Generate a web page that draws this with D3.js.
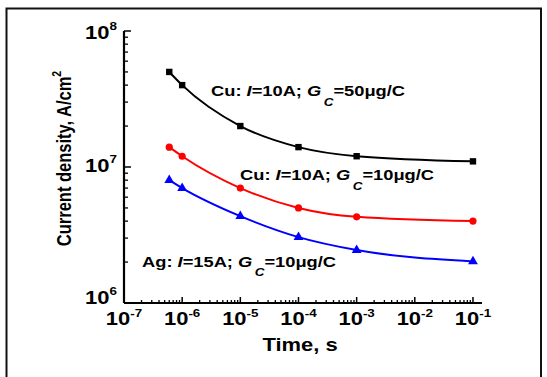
<!DOCTYPE html>
<html><head><meta charset="utf-8">
<script src="https://cdn.jsdelivr.net/npm/d3@7"></script>
<style>
html,body{margin:0;padding:0;background:#fff;}
svg text{font-family:"Liberation Sans",Arial,Helvetica,sans-serif;font-weight:bold;fill:#000;}
</style></head>
<body>
<svg id="chart" width="547" height="377"></svg>
<script>
// ---- data ----
const times = [6e-7, 1e-6, 1e-5, 1e-4, 1e-3, 1e-1];
const cu50 = [5.0e7, 4.0e7, 2.0e7, 1.4e7, 1.2e7, 1.1e7];
const cu10 = [1.4e7, 1.2e7, 7.0e6, 5.0e6, 4.3e6, 4.0e6];
const ag10 = [8.0e6, 7.0e6, 4.35e6, 3.05e6, 2.45e6, 2.02e6];
const xTickExps = [-7, -6, -5, -4, -3, -2, -1];
const yTickExps = [6, 7, 8];
const seriesNames = [
  {metal:"Cu", current:"10A", gc:"50μg/C"},
  {metal:"Cu", current:"10A", gc:"10μg/C"},
  {metal:"Ag", current:"15A", gc:"10μg/C"}
];
const xTitle = "Time, s";
const yTitle = "Current density, A/cm";

// ---- layout ----
const SX = 1.22; // horizontal stretch of all lettering
const svg = d3.select("#chart");
const x = d3.scaleLog().domain([1e-7, 0.143]).range([124, 482]);
const y = d3.scaleLog().domain([1e6, 1e8]).range([303, 31]);

// outer frame
svg.append("path").attr("d","M6.5,377V8.5H541V377").attr("fill","none")
  .attr("stroke","#111").attr("stroke-width",2);

// axes lines
svg.append("line").attr("x1",x(1e-7)).attr("x2",x(0.143)).attr("y1",y(1e6)).attr("y2",y(1e6))
  .attr("stroke","#000").attr("stroke-width",2);
svg.append("line").attr("x1",x(1e-7)).attr("x2",x(1e-7)).attr("y1",y(1e6)).attr("y2",y(1e8))
  .attr("stroke","#000").attr("stroke-width",2.2);

// x ticks (inward)
const xMinor = [];
for (let e=-7;e<-1;e++) for (let m=2;m<=9;m++) xMinor.push(m*Math.pow(10,e));
svg.selectAll(".xmin").data(xMinor).enter().append("line")
  .attr("x1",d=>x(d)).attr("x2",d=>x(d)).attr("y1",y(1e6)).attr("y2",y(1e6)-3)
  .attr("stroke","#000").attr("stroke-width",1.3);
svg.selectAll(".xmaj").data(xTickExps).enter().append("line")
  .attr("x1",d=>x(Math.pow(10,d))).attr("x2",d=>x(Math.pow(10,d)))
  .attr("y1",y(1e6)).attr("y2",y(1e6)-6).attr("stroke","#000").attr("stroke-width",1.5);

// y ticks (inward)
const yMinor = [];
for (let e=6;e<8;e++) for (let m=2;m<=9;m++) yMinor.push(m*Math.pow(10,e));
svg.selectAll(".ymin").data(yMinor).enter().append("line")
  .attr("x1",x(1e-7)).attr("x2",x(1e-7)+4).attr("y1",d=>y(d)).attr("y2",d=>y(d))
  .attr("stroke","#000").attr("stroke-width",1.3);
svg.selectAll(".ymaj").data(yTickExps).enter().append("line")
  .attr("x1",x(1e-7)).attr("x2",x(1e-7)+7).attr("y1",d=>y(Math.pow(10,d))).attr("y2",d=>y(Math.pow(10,d)))
  .attr("stroke","#000").attr("stroke-width",1.5);

// tick labels
function stretched(px,py){ return svg.append("text").attr("transform",`translate(${px},${py}) scale(${SX},1)`); }
xTickExps.forEach(e=>{
  const t = stretched(x(Math.pow(10,e)), 325).attr("text-anchor","middle").attr("font-size",18);
  t.append("tspan").text("10");
  t.append("tspan").attr("font-size",11).attr("dy",-8).text(String(e));
});
yTickExps.forEach(e=>{
  const off = 1 + 3.6*(e-6);
  const t = stretched(117, y(Math.pow(10,e))+off).attr("text-anchor","end").attr("font-size",18);
  t.append("tspan").text("10");
  t.append("tspan").attr("font-size",11).attr("dy",-9).text(String(e));
});

// axis titles
stretched(300, 350.5).attr("text-anchor","middle").attr("font-size",18).text(xTitle);
const yt = svg.append("text").attr("transform",`translate(70.5,158.5) scale(${SX},1) rotate(-90)`)
  .attr("text-anchor","middle").attr("font-size",16.5);
yt.append("tspan").text(yTitle);
yt.append("tspan").attr("font-size",10.5).attr("dy",-7.5).text("2");

// curves and markers
const colors = ["#000000","#ff0000","#0000ff"];
const allSeries = [cu50, cu10, ag10];
const line = d3.line().x(d=>x(d[0])).y(d=>y(d[1])).curve(d3.curveMonotoneX);
allSeries.forEach((vals,i)=>{
  const pts = times.map((t,j)=>[t,vals[j]]);
  svg.append("path").attr("d",line(pts)).attr("fill","none").attr("stroke",colors[i]).attr("stroke-width",2);
  const g = svg.append("g").attr("fill",colors[i]);
  if (i===0) {
    g.selectAll("rect").data(pts).enter().append("rect")
      .attr("x",d=>x(d[0])-3.2).attr("y",d=>y(d[1])-3.2).attr("width",6.4).attr("height",6.4);
  } else if (i===1) {
    g.selectAll("circle").data(pts).enter().append("circle")
      .attr("cx",d=>x(d[0])).attr("cy",d=>y(d[1])).attr("r",3.6);
  } else {
    const tri = d3.symbol().type(d3.symbolTriangle).size(42);
    g.selectAll("path").data(pts).enter().append("path")
      .attr("transform",d=>`translate(${x(d[0])},${y(d[1])})`).attr("d",tri);
  }
});

// annotations
const annPos = [[211,96],[240,180],[142,266.5]];
seriesNames.forEach((s,i)=>{
  const t = stretched(annPos[i][0], annPos[i][1]).attr("font-size",15);
  t.append("tspan").text(s.metal+": ");
  t.append("tspan").attr("font-style","italic").text("I");
  t.append("tspan").text("="+s.current+"; ");
  t.append("tspan").attr("font-style","italic").text("G");
  t.append("tspan").attr("font-style","italic").attr("font-size",11).attr("dx",2).attr("dy",10).text("C");
  t.append("tspan").attr("dy",-10).text("="+s.gc);
});
</script>
</body></html>
